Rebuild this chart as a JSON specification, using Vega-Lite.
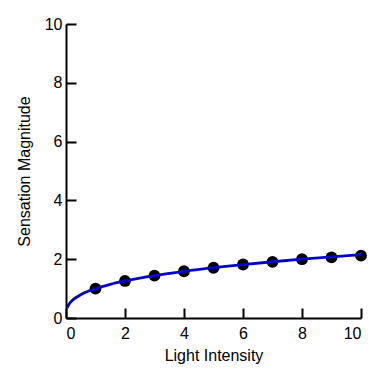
{
  "$schema": "https://vega.github.io/schema/vega-lite/v6.json",
  "autosize": "none",
  "padding": {"left": 66, "top": 24, "right": 13, "bottom": 66},
  "width": 295,
  "height": 294,
  "background": "white",
  "config": {
    "view": {"stroke": null},
    "font": "Liberation Sans",
    "axis": {
      "grid": false,
      "domainColor": "black",
      "domainWidth": 2,
      "tickColor": "black",
      "tickWidth": 2,
      "tickSize": 10,
      "labelFont": "Liberation Sans",
      "labelFontSize": 16,
      "labelColor": "black",
      "titleFont": "Liberation Sans",
      "titleFontSize": 16,
      "titleFontWeight": "normal",
      "titleColor": "black"
    }
  },
  "datasets": {
    "curve": [
      {"intensity": 0.04, "magnitude": 0.342},
      {"intensity": 0.1, "magnitude": 0.464},
      {"intensity": 0.2, "magnitude": 0.585},
      {"intensity": 0.3, "magnitude": 0.669},
      {"intensity": 0.5, "magnitude": 0.794},
      {"intensity": 0.75, "magnitude": 0.909},
      {"intensity": 1, "magnitude": 1.0},
      {"intensity": 1.5, "magnitude": 1.145},
      {"intensity": 2, "magnitude": 1.26},
      {"intensity": 2.5, "magnitude": 1.357},
      {"intensity": 3, "magnitude": 1.442},
      {"intensity": 4, "magnitude": 1.587},
      {"intensity": 5, "magnitude": 1.71},
      {"intensity": 6, "magnitude": 1.817},
      {"intensity": 7, "magnitude": 1.913},
      {"intensity": 8, "magnitude": 2.0},
      {"intensity": 9, "magnitude": 2.08},
      {"intensity": 10, "magnitude": 2.154}
    ],
    "points": [
      {"intensity": 1, "magnitude": 1.0},
      {"intensity": 2, "magnitude": 1.26},
      {"intensity": 3, "magnitude": 1.44},
      {"intensity": 4, "magnitude": 1.59},
      {"intensity": 5, "magnitude": 1.71},
      {"intensity": 6, "magnitude": 1.82},
      {"intensity": 7, "magnitude": 1.91},
      {"intensity": 8, "magnitude": 2.0},
      {"intensity": 9, "magnitude": 2.06},
      {"intensity": 10, "magnitude": 2.12}
    ]
  },
  "layer": [
    {
      "data": {"name": "points"},
      "mark": {"type": "circle", "size": 140, "color": "black", "opacity": 1},
      "encoding": {
        "x": {
          "field": "intensity", "type": "quantitative",
          "scale": {"domain": [0, 10], "nice": false},
          "axis": {"orient": "bottom", "values": [0, 2, 4, 6, 8, 10], "ticks": false, "title": "Light Intensity", "labelPadding": 7, "titlePadding": 6}
        },
        "y": {
          "field": "magnitude", "type": "quantitative",
          "scale": {"domain": [0, 10], "nice": false},
          "axis": {"orient": "left", "values": [0, 2, 4, 6, 8, 10], "ticks": false, "title": "Sensation Magnitude", "labelPadding": 4, "titlePadding": 12}
        }
      }
    },
    {
      "data": {"name": "curve"},
      "mark": {"type": "line", "color": "#0000cc", "strokeWidth": 2.8, "interpolate": "monotone"},
      "encoding": {
        "x": {
          "field": "intensity", "type": "quantitative",
          "scale": {"domain": [0, 10], "nice": false},
          "axis": {"orient": "top", "offset": -294, "values": [0, 2, 4, 6, 8, 10], "labels": false, "domain": false, "title": null}
        },
        "y": {
          "field": "magnitude", "type": "quantitative",
          "scale": {"domain": [0, 10], "nice": false},
          "axis": {"orient": "right", "offset": -295, "values": [0, 2, 4, 6, 8, 10], "labels": false, "domain": false, "title": null}
        }
      }
    }
  ],
  "resolve": {"axis": {"x": "independent", "y": "independent"}}
}
